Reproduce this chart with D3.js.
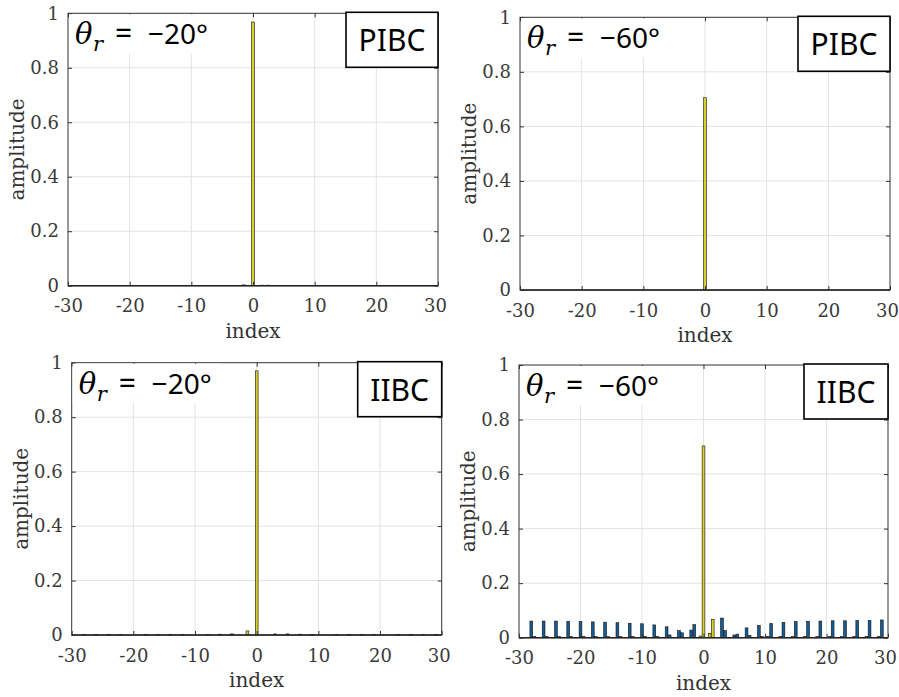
<!DOCTYPE html>
<html>
<head>
<meta charset="utf-8">
<script src="https://cdn.jsdelivr.net/npm/d3@7"></script>
<style>
  body { margin: 0; background: #fff; }
  text { font-family: 'DejaVu Serif', serif; }
</style>
</head>
<body>
<svg id="vis"></svg>
<script>
const indexTicks = [-30, -20, -10, 0, 10, 20, 30];
const ampTicks = [0, 0.2, 0.4, 0.6, 0.8, 1];

// [index, amplitude] of the bars that show up in each panel
const pibc20Yellow = [[0, 0.968]];
const pibc20Blue = [[-1.5, 0.003], [1.5, 0.002], [2.5, 0.002]];
const pibc60Yellow = [[0, 0.705]];
const pibc60Blue = [];
const iibc20Yellow = [[-1.5, 0.015], [0, 0.970]];
const iibc20Blue = [[-28, 0.002], [-26, 0.002], [-24, 0.002], [-22, 0.002], [-18, 0.002],
  [-16, 0.002], [-14, 0.002], [-12, 0.002], [-8, 0.002], [-6, 0.003], [-4, 0.004],
  [3, 0.004], [5, 0.004], [7, 0.003], [9, 0.002], [13, 0.002], [15, 0.002],
  [17, 0.002], [19, 0.002], [23, 0.002], [25, 0.002], [27, 0.002], [29, 0.002]];
const iibc60Yellow = [[-0.5, 0.006], [0, 0.703], [1, 0.016], [1.5, 0.067]];
const iibc60Blue = [
  [-28, 0.061], [-27.5, 0.004], [-26, 0.061], [-25.5, 0.004], [-24, 0.061], [-23.5, 0.004],
  [-22, 0.060], [-21.5, 0.004], [-20, 0.059], [-19.5, 0.004], [-18, 0.058], [-17.5, 0.004],
  [-16, 0.057], [-15.5, 0.004], [-14, 0.055], [-13.5, 0.004], [-12, 0.053], [-11.5, 0.004],
  [-10, 0.051], [-9.5, 0.004], [-8, 0.047], [-7.5, 0.004], [-6, 0.040], [-5.5, 0.010],
  [-4, 0.026], [-3.5, 0.018], [-2, 0.028], [-1.5, 0.048],
  [3, 0.072], [3.5, 0.026], [5, 0.010], [5.5, 0.013], [7, 0.036], [7.5, 0.008],
  [9, 0.045], [9.5, 0.005], [10.5, 0.004], [11, 0.052], [12.5, 0.004], [13, 0.056],
  [14.5, 0.004], [15, 0.059], [16.5, 0.004], [17, 0.060], [18.5, 0.004], [19, 0.061],
  [20.5, 0.004], [21, 0.062], [22.5, 0.004], [23, 0.062], [24.5, 0.004], [25, 0.063],
  [26.5, 0.004], [27, 0.063], [28.5, 0.004], [29, 0.065]];

const angles = ['\u221220\u00b0', '\u221260\u00b0', '\u221220\u00b0', '\u221260\u00b0'];
const models = ['PIBC', 'PIBC', 'IIBC', 'IIBC'];

const W = 899, H = 697;
const svg = d3.select('#vis').attr('width', W).attr('height', H);

const panels = [
  {left: 68, top: 13.3, width: 370, height: 272.4, yellow: pibc20Yellow, blue: pibc20Blue, boxW: 92},
  {left: 520, top: 17.3, width: 370, height: 272.7, yellow: pibc60Yellow, blue: pibc60Blue, boxW: 92},
  {left: 71.7, top: 362.7, width: 370, height: 272.3, yellow: iibc20Yellow, blue: iibc20Blue, boxW: 84},
  {left: 519, top: 365, width: 369, height: 272.7, yellow: iibc60Yellow, blue: iibc60Blue, boxW: 84}
];

const barW = 0.45;

panels.forEach((p, k) => {
  const g = svg.append('g');
  const x = d3.scaleLinear().domain([-30, 30]).range([p.left, p.left + p.width]);
  const y = d3.scaleLinear().domain([0, 1]).range([p.top + p.height, p.top]);

  // grid
  g.selectAll('.vg').data(indexTicks.slice(1, -1)).enter().append('line')
    .attr('x1', d => x(d)).attr('x2', d => x(d))
    .attr('y1', y(0)).attr('y2', y(1))
    .attr('stroke', '#e3e3e3').attr('stroke-width', 1);
  g.selectAll('.hg').data(ampTicks.slice(1, -1)).enter().append('line')
    .attr('x1', x(-30)).attr('x2', x(30))
    .attr('y1', d => y(d)).attr('y2', d => y(d))
    .attr('stroke', '#e3e3e3').attr('stroke-width', 1);

  // bars
  const drawBars = (data, fill) => {
    g.selectAll(null).data(data).enter().append('rect')
      .attr('x', d => x(d[0] - barW / 2))
      .attr('width', x(barW) - x(0))
      .attr('y', d => y(d[1]))
      .attr('height', d => y(0) - y(d[1]))
      .attr('fill', fill)
      .attr('stroke', '#111')
      .attr('stroke-width', 0.6);
  };
  drawBars(p.blue, '#135c96');
  drawBars(p.yellow, '#d8cf2c');

  // axes box
  g.append('rect')
    .attr('x', x(-30)).attr('y', y(1))
    .attr('width', x(30) - x(-30)).attr('height', y(0) - y(1))
    .attr('fill', 'none').attr('stroke', '#333').attr('stroke-width', 1);
  g.append('line')
    .attr('x1', x(-30)).attr('x2', x(30)).attr('y1', y(0)).attr('y2', y(0))
    .attr('stroke', '#222').attr('stroke-width', 1.6);

  const xAxis = d3.axisBottom(x).tickValues(indexTicks).tickSize(-4).tickPadding(14).tickFormat(d => String(d));
  const xa = g.append('g').attr('transform', `translate(0,${y(0)})`).call(xAxis);
  const yAxis = d3.axisLeft(y).tickValues(ampTicks).tickSize(-4).tickPadding(9).tickFormat(d => d === 0 || d === 1 ? d : d.toFixed(1));
  const ya = g.append('g').attr('transform', `translate(${x(-30)},0)`).call(yAxis);
  const xTop = g.append('g').attr('transform', `translate(0,${y(1)})`)
    .call(d3.axisTop(x).tickValues(indexTicks).tickSize(-4).tickFormat(''));
  const yRight = g.append('g').attr('transform', `translate(${x(30)},0)`)
    .call(d3.axisRight(y).tickValues(ampTicks).tickSize(-4).tickFormat(''));
  [xa, ya, xTop, yRight].forEach(a => {
    a.select('.domain').remove();
    a.selectAll('line').attr('stroke', '#333');
    a.selectAll('text').attr('fill', '#3a3a3a').style('font-size', '18px')
      .style('font-family', "'DejaVu Serif', serif");
  });
  // keep the last index label inside the page
  xa.selectAll('text').filter(d => d === 30).attr('dx', -3);

  // axis titles
  g.append('text')
    .attr('x', (x(-30) + x(30)) / 2).attr('y', y(0) + 52)
    .attr('text-anchor', 'middle').attr('fill', '#333')
    .style('font-size', '20px').text('index');
  g.append('text')
    .attr('transform', `translate(${x(-30) - 44},${(y(0) + y(1)) / 2}) rotate(-90)`)
    .attr('text-anchor', 'middle').attr('fill', '#333')
    .style('font-size', '20px').text('amplitude');

  // angle label with white background
  const lx = x(-30) + 7, ly = y(1) + 31;
  g.append('rect')
    .attr('x', x(-30) + 1).attr('y', y(1) + 1)
    .attr('width', 148).attr('height', 39).attr('fill', '#fff');
  const t = g.append('text').attr('y', ly).attr('fill', '#000');
  t.append('tspan').attr('x', lx).style('font-style', 'italic').style('font-size', '29px').text('\u03b8');
  t.append('tspan').attr('x', lx + 18).attr('dy', 7).style('font-style', 'italic').style('font-size', '21px').text('r');
  t.append('tspan').attr('x', lx + 40).attr('dy', -7)
    .style('font-family', "'Noto Sans', sans-serif").style('font-size', '30px').text('=');
  t.append('tspan').attr('x', lx + 73)
    .style('font-family', "'Noto Sans', sans-serif").style('font-size', '28px').text(angles[k]);

  // model box
  const bx = x(30) - p.boxW, by = y(1) - 1;
  g.append('rect')
    .attr('x', bx).attr('y', by).attr('width', p.boxW).attr('height', 55)
    .attr('fill', '#fff').attr('stroke', '#000').attr('stroke-width', 1.6);
  g.append('text')
    .attr('x', bx + p.boxW / 2).attr('y', by + 39)
    .attr('text-anchor', 'middle').attr('fill', '#000')
    .style('font-family', "'Noto Sans', sans-serif").style('font-size', '30px')
    .text(models[k]);
});
</script>
</body>
</html>
